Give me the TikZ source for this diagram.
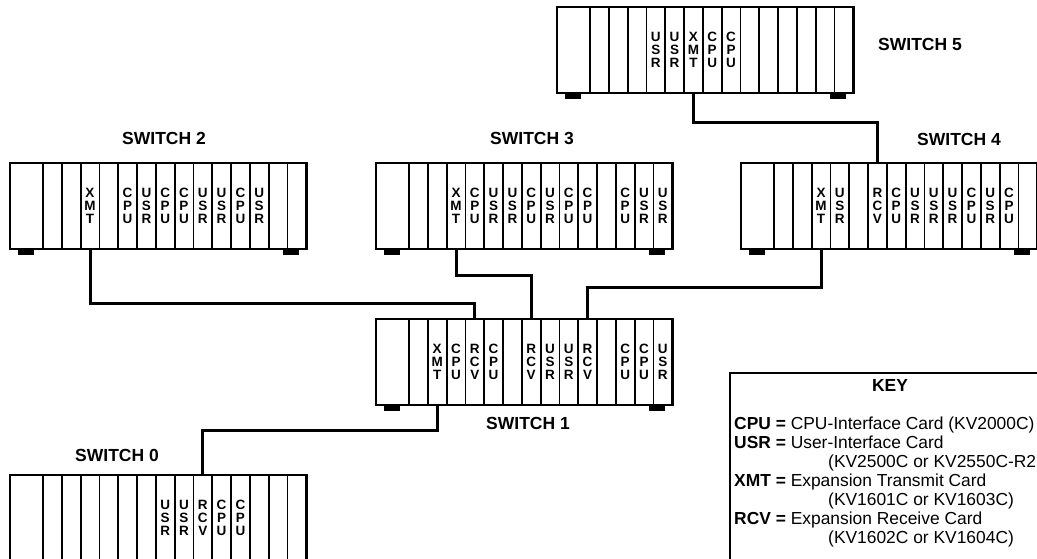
\documentclass[tikz,border=0pt]{standalone}
\usepackage{fontspec}
\setmainfont{Liberation Sans}
\usetikzlibrary{calc}

\newcommand{\cardcpu}{C\\P\\U}
\newcommand{\cardusr}{U\\S\\R}
\newcommand{\cardxmt}{X\\M\\T}
\newcommand{\cardrcv}{R\\C\\V}

\begin{document}
\begin{tikzpicture}[x=1pt, y=-1pt,
    slot/.style={draw, line width=1.8pt, minimum width=18.8pt, minimum height=86pt,
                 inner sep=0pt, outer sep=0pt, anchor=north west},
    wideslot/.style={slot, minimum width=33pt},
    frame/.style={line width=2.6pt},
    card/.style={font=\fontsize{13.5}{13.2}\selectfont\bfseries, align=center, inner sep=0pt},
    title/.style={font=\fontsize{17.5}{20}\selectfont\bfseries},
    link/.style={line width=3pt},
    keytext/.style={font=\fontsize{17.4}{19}\selectfont, anchor=base west, inner sep=0pt}
]
    \useasboundingbox (0,0) rectangle (1037,558);
    \clip (0,0) rectangle (1037,558);

    % Chassis with 15 slots each
    \foreach \n/\x/\y in {5/557/7, 2/10/163, 3/376/163, 4/741/163, 1/376/319, 0/10/475} {
        \node[wideslot] (s\n-1) at (\x,\y) {};
        \foreach \k in {2,...,15} {
            \node[slot] (s\n-\k) at ({\x+33+(\k-2)*18.8},\y) {};
        }
        \draw[frame] (s\n-1.north west) rectangle (s\n-15.south east);
        \fill ([xshift=8pt]s\n-1.south west) rectangle ++(16,5.5);
        \fill ([xshift=-7pt]s\n-15.south east) rectangle ++(-16,5.5);
    }

    % Cards
    \foreach \k/\c in {5/\cardusr, 6/\cardusr, 7/\cardxmt, 8/\cardcpu, 9/\cardcpu} {
        \node[card] (c5-\k) at (s5-\k) {\c};
    }
    \foreach \k/\c in {4/\cardxmt, 6/\cardcpu, 7/\cardusr, 8/\cardcpu, 9/\cardcpu,
                       10/\cardusr, 11/\cardusr, 12/\cardcpu, 13/\cardusr} {
        \node[card] (c2-\k) at (s2-\k) {\c};
    }
    \foreach \k/\c in {4/\cardxmt, 5/\cardcpu, 6/\cardusr, 7/\cardusr, 8/\cardcpu,
                       9/\cardusr, 10/\cardcpu, 11/\cardcpu, 13/\cardcpu, 14/\cardusr, 15/\cardusr} {
        \node[card] (c3-\k) at (s3-\k) {\c};
    }
    \foreach \k/\c in {4/\cardxmt, 5/\cardusr, 7/\cardrcv, 8/\cardcpu, 9/\cardusr,
                       10/\cardusr, 11/\cardusr, 12/\cardcpu, 13/\cardusr, 14/\cardcpu} {
        \node[card] (c4-\k) at (s4-\k) {\c};
    }
    \foreach \k/\c in {3/\cardxmt, 4/\cardcpu, 5/\cardrcv, 6/\cardcpu, 8/\cardrcv,
                       9/\cardusr, 10/\cardusr, 11/\cardrcv, 13/\cardcpu, 14/\cardcpu, 15/\cardusr} {
        \node[card] (c1-\k) at (s1-\k) {\c};
    }
    \foreach \k/\c in {8/\cardusr, 9/\cardusr, 10/\cardrcv, 11/\cardcpu, 12/\cardcpu} {
        \node[card] (c0-\k) at (s0-\k) {\c};
    }

    % Switch names
    \node[title] (t5) at (920,44) {SWITCH 5};
    \node[title] (t2) at (164,138) {SWITCH 2};
    \node[title] (t3) at (532,138) {SWITCH 3};
    \node[title] (t4) at (959,139) {SWITCH 4};
    \node[title] (t1) at (528,423) {SWITCH 1};
    \node[title] (t0) at (117,455) {SWITCH 0};

    % Expansion links
    \draw[link] (s5-7.south) -- ++(0,29) -| (s4-7.north);
    \draw[link] (s2-4.south) -- ++(0,54) -| (s1-5.north);
    \draw[link] (s3-4.south) -- ++(0,26) -| (s1-8.north);
    \draw[link] (s4-4.south) -- ++(0,38) -| (s1-11.north);
    \draw[link] (s1-3.south) -- ++(0,25) -| (s0-10.north);

    % Key
    \node[draw, line width=1.6pt, minimum width=323pt, minimum height=200pt,
          anchor=north west] (key) at (729,372) {};
    \node[title, anchor=base] (keyhead) at (890,391) {KEY};
    \foreach \i/\dx/\t in {0/0/{\textbf{CPU =} CPU-Interface Card (KV2000C)},
                           1/0/{\textbf{USR =} User-Interface Card},
                           2/94/{(KV2500C or KV2550C-R2},
                           3/0/{\textbf{XMT =} Expansion Transmit Card},
                           4/94/{(KV1601C or KV1603C)},
                           5/0/{\textbf{RCV =} Expansion Receive Card},
                           6/94/{(KV1602C or KV1604C)}} {
        \node[keytext] (k\i) at ({734+\dx},{429+\i*19}) {\t};
    }
\end{tikzpicture}
\end{document}
